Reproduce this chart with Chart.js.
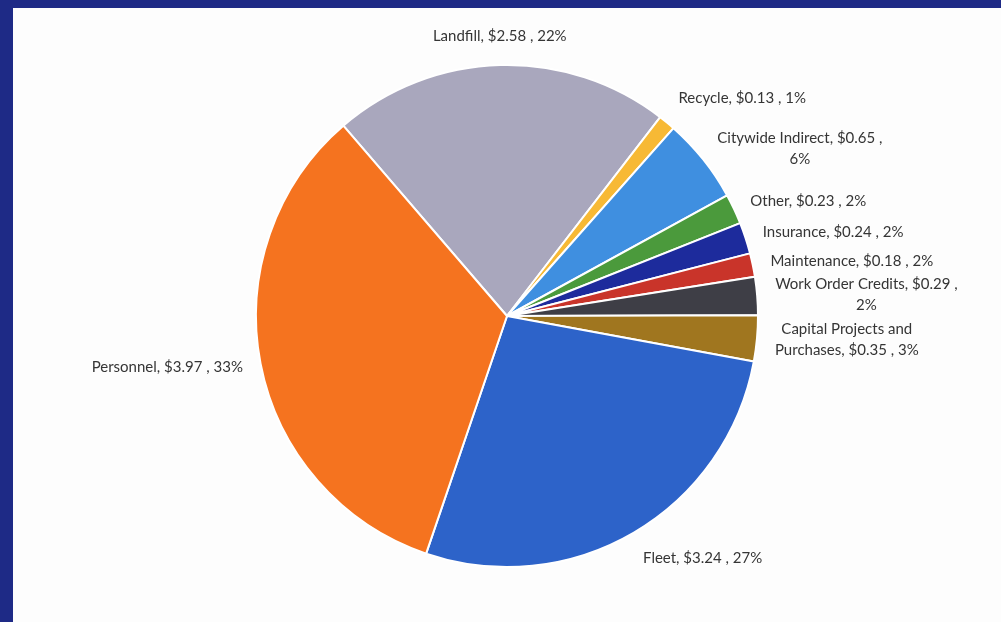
<!DOCTYPE html>
<html>
<head>
<meta charset="utf-8">
<script src="https://cdn.jsdelivr.net/npm/chart.js@4/dist/chart.umd.min.js"></script>
<style>
  html, body { margin:0; padding:0; }
  body { width:1001px; height:622px; background:#1e2a86; position:relative; overflow:hidden; }
  #panel { position:absolute; left:13px; top:8px; width:988px; height:614px; background:#fdfdfd; }
  #chart { display:block; }
</style>
</head>
<body>
<div id="panel"><canvas id="chart" width="988" height="614"></canvas></div>
<script>
// slices in clockwise order, starting at Landfill
const categories = ["Landfill", "Recycle", "Citywide Indirect", "Other", "Insurance",
  "Maintenance", "Work Order Credits", "Capital Projects and\nPurchases", "Fleet", "Personnel"];
const amounts = [2.58, 0.13, 0.65, 0.23, 0.24, 0.18, 0.29, 0.35, 3.24, 3.97];
const percents = [22, 1, 6, 2, 2, 2, 2, 3, 27, 33];
// put the percent on its own line (Excel wrapped these)
const pctNewLine = [false, false, true, false, false, false, true, false, false, false];
const colors = ["#a9a7bd", "#f7b935", "#3f8fe0", "#4b9a3c", "#1d2b9c",
  "#c9342a", "#3e3e46", "#a0761f", "#2d63c9", "#f5731f"];

function labelLines(i) {
  const s = categories[i] + ", $" + amounts[i].toFixed(2) + " ," + (pctNewLine[i] ? "\n" : " ") + percents[i] + "%";
  return s.split("\n");
}

// draws the data labels outside each slice
const outsideLabels = {
  id: "outsideLabels",
  afterDatasetsDraw(chart) {
    const ctx = chart.ctx;
    const meta = chart.getDatasetMeta(0);
    const lh = 21;
    ctx.save();
    ctx.font = "15px Lato, 'Open Sans', sans-serif";
    ctx.fillStyle = "#353535";
    ctx.textBaseline = "middle";
    ctx.textAlign = "center";
    meta.data.forEach((arc, i) => {
      const mid = (arc.startAngle + arc.endAngle) / 2;
      const r = arc.outerRadius + 18;
      const ax = arc.x + Math.cos(mid) * r;
      const ay = arc.y + Math.sin(mid) * r;
      const lines = labelLines(i);
      const w = Math.max(...lines.map(l => ctx.measureText(l).width));
      const h = lines.length * lh;
      const c = Math.cos(mid), s = Math.sin(mid);
      let cx = ax, top = ay - h / 2;
      if (c > 0.3) cx = ax + w / 2;
      else if (c < -0.3) cx = ax - w / 2;
      if (s < -0.7) top = ay - h;
      else if (s > 0.7) top = ay;
      lines.forEach((l, k) => ctx.fillText(l, cx, top + lh / 2 + k * lh));
    });
    ctx.restore();
  }
};

new Chart(document.getElementById("chart"), {
  type: "pie",
  data: {
    labels: categories,
    datasets: [{
      data: amounts,
      backgroundColor: colors,
      borderColor: "#ffffff",
      borderWidth: 2
    }]
  },
  options: {
    responsive: false,
    animation: false,
    rotation: -40.7,
    layout: { padding: { top: 56, bottom: 54, left: 242, right: 242 } },
    plugins: {
      legend: { display: false },
      tooltip: { enabled: false }
    }
  },
  plugins: [outsideLabels]
});
</script>
</body>
</html>
